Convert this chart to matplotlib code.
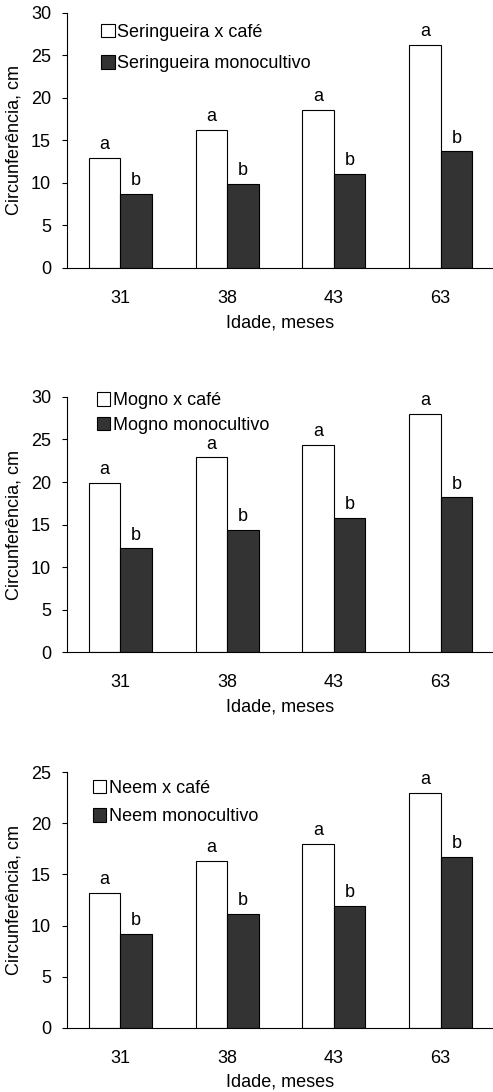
import numpy as np
import matplotlib
matplotlib.use("Agg")
import matplotlib.pyplot as plt
from matplotlib.patches import Patch

plt.rcParams["font.family"] = ["Liberation Sans", "DejaVu Sans"]
plt.rcParams["font.size"] = 13

ages = ["31", "38", "43", "63"]

# Seringueira
seringueira_cafe = [12.9, 16.2, 18.6, 26.2]
seringueira_mono = [8.7, 9.9, 11.1, 13.7]
# Mogno
mogno_cafe = [19.9, 22.9, 24.4, 28.0]
mogno_mono = [12.2, 14.4, 15.8, 18.2]
# Neem
neem_cafe = [13.2, 16.3, 18.0, 23.0]
neem_mono = [9.2, 11.1, 11.9, 16.7]

letters_cafe = ["a", "a", "a", "a"]
letters_mono = ["b", "b", "b", "b"]

panels = [
    ("Seringueira", seringueira_cafe, seringueira_mono, 30, 5, 0.7546, (0.08, 0.955), 0.78),
    ("Mogno", mogno_cafe, mogno_mono, 30, 5, 0.4027, (0.07, 1.018), 0.42),
    ("Neem", neem_cafe, neem_mono, 25, 5, 0.0589, (0.06, 0.97), 0.62),
]

fig = plt.figure(figsize=(4.93, 10.92), dpi=100)
dark = "#333333"
width = 0.295
x = np.arange(len(ages))

for name, cafe, mono, ymax, step, bottom, anchor, spacing in panels:
    ax = fig.add_axes([0.136, bottom, 0.866, 0.2338])
    b1 = ax.bar(x - width / 2, cafe, width, color="white", edgecolor="black", linewidth=0.8)
    b2 = ax.bar(x + width / 2, mono, width, color=dark, edgecolor="black", linewidth=0.8)
    for rect, lab in zip(b1, letters_cafe):
        ax.annotate(lab, (rect.get_x() + rect.get_width() / 2, rect.get_height()),
                    xytext=(0, 3.5), textcoords="offset points", ha="center", va="bottom")
    for rect, lab in zip(b2, letters_mono):
        ax.annotate(lab, (rect.get_x() + rect.get_width() / 2, rect.get_height()),
                    xytext=(0, 3.5), textcoords="offset points", ha="center", va="bottom")

    ax.set_xlim(-0.5, 3.5)
    ax.set_ylim(0, ymax)
    ax.set_yticks(np.arange(0, ymax + 1, step))
    ax.set_xticks(x)
    ax.set_xticklabels(ages)
    ax.spines["top"].set_visible(False)
    ax.spines["right"].set_visible(False)
    ax.tick_params(axis="x", length=0, pad=16)
    ax.tick_params(axis="y", direction="out", length=3.5, width=0.8, pad=8)
    ax.set_xlabel("Idade, meses", labelpad=5)
    ax.set_ylabel("Circunferência, cm", labelpad=6)

    handles = [
        Patch(facecolor="white", edgecolor="black", linewidth=0.8, label=f"{name} x café"),
        Patch(facecolor=dark, edgecolor="black", linewidth=0.8, label=f"{name} monocultivo"),
    ]
    ax.legend(handles=handles, loc="upper left", bbox_to_anchor=anchor, frameon=False,
              handlelength=0.75, handleheight=0.75, handletextpad=0.15,
              labelspacing=spacing, borderpad=0, borderaxespad=0)

fig.savefig("out.png", dpi=100)
